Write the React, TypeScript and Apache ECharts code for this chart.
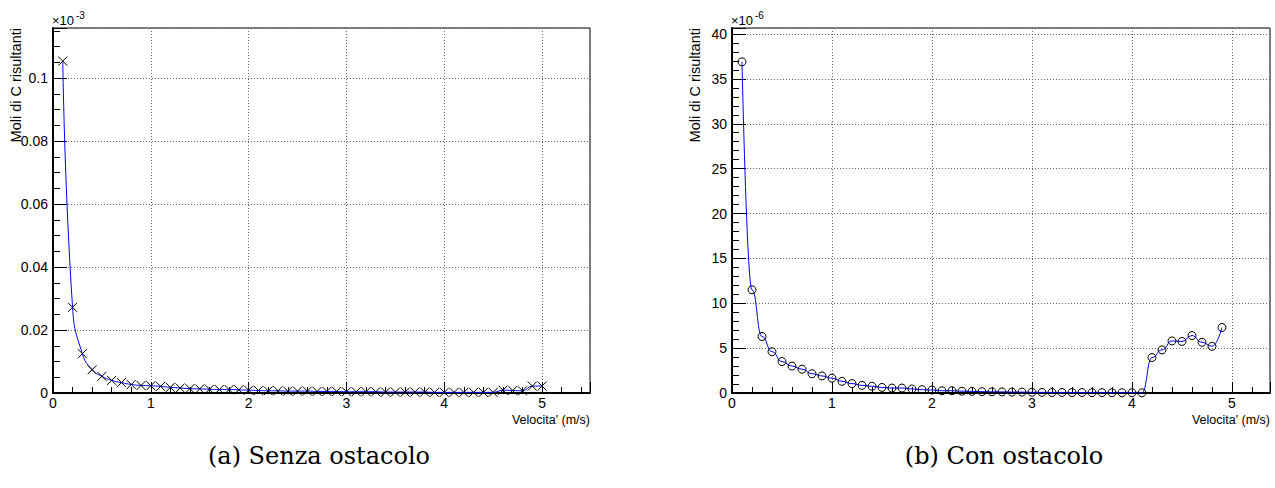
import React, { useEffect, useRef } from "react";
import * as echarts from "echarts";

const velocityA = [0.1,0.2,0.3,0.4,0.5,0.6,0.7,0.8,0.9,1.0,1.1,1.2,1.3,1.4,1.5,1.6,1.7,1.8,1.9,2.0,2.1,2.2,2.3,2.4,2.5,2.6,2.7,2.8,2.9,3.0,3.1,3.2,3.3,3.4,3.5,3.6,3.7,3.8,3.9,4.0,4.1,4.2,4.3,4.4,4.5,4.6,4.7,4.8,4.9,5.0];
const moliA = [0.1054,0.0272,0.0125,0.0074,0.0053,0.0040,0.0033,0.0027,0.0024,0.0023,0.0021,0.0018,0.0016,0.0014,0.0013,0.0012,0.0011,0.0011,0.0010,0.0009,0.0008,0.0007,0.0007,0.0006,0.0006,0.0006,0.0005,0.0005,0.0005,0.0004,0.0004,0.0004,0.0004,0.0003,0.0003,0.0003,0.0003,0.0003,0.0002,0.0002,0.0002,0.0002,0.0002,0.0002,0.0002,0.0009,0.0008,0.0007,0.0022,0.0022];

const velocityB = [0.1,0.2,0.3,0.4,0.5,0.6,0.7,0.8,0.9,1.0,1.1,1.2,1.3,1.4,1.5,1.6,1.7,1.8,1.9,2.0,2.1,2.2,2.3,2.4,2.5,2.6,2.7,2.8,2.9,3.0,3.1,3.2,3.3,3.4,3.5,3.6,3.7,3.8,3.9,4.0,4.1,4.2,4.3,4.4,4.5,4.6,4.7,4.8,4.9];
const moliB = [36.9,11.5,6.3,4.6,3.5,3.0,2.65,2.15,1.9,1.65,1.3,1.05,0.85,0.75,0.62,0.55,0.55,0.45,0.37,0.33,0.25,0.25,0.2,0.18,0.15,0.13,0.12,0.1,0.1,0.08,0.07,0.06,0.06,0.05,0.05,0.04,0.04,0.03,0.03,0.03,0.02,3.95,4.8,5.8,5.75,6.4,5.65,5.2,7.3];

const xTickValues = [0, 1, 2, 3, 4, 5];
const yTicksA = [0, 0.02, 0.04, 0.06, 0.08, 0.1];
const yTicksB = [0, 5, 10, 15, 20, 25, 30, 35, 40];

const FONT = "Liberation Sans";

function xAxisCfg(gridIndex: number, max: number) {
  return {
    type: "value",
    gridIndex,
    min: 0,
    max,
    interval: 1,
    axisLine: { show: true, onZero: false, lineStyle: { color: "#000", width: 2 } },
    axisTick: { show: true, inside: true, length: 11, lineStyle: { color: "#000", width: 1 } },
    minorTick: { show: true, splitNumber: 5, length: 6, lineStyle: { color: "#000", width: 1 } },
    axisLabel: {
      show: true,
      margin: 3,
      color: "#000",
      fontSize: 14,
      lineHeight: 14,
      fontFamily: FONT,
      showMaxLabel: false,
      formatter: (v: number) => (xTickValues.indexOf(v) >= 0 ? String(v) : ""),
    },
    splitLine: { show: true, lineStyle: { color: "#666", width: 1, type: [1, 2] } },
    minorSplitLine: { show: false },
  };
}

function yAxisCfg(gridIndex: number, max: number, interval: number, minorSplit: number, ticks: number[]) {
  return {
    type: "value",
    gridIndex,
    min: 0,
    max,
    interval,
    axisLine: { show: true, onZero: false, lineStyle: { color: "#000", width: 2 } },
    axisTick: { show: true, inside: true, length: 14, lineStyle: { color: "#000", width: 1 } },
    minorTick: { show: true, splitNumber: minorSplit, length: 7, lineStyle: { color: "#000", width: 1 } },
    axisLabel: {
      show: true,
      margin: 5,
      color: "#000",
      fontSize: 14,
      fontFamily: FONT,
      showMaxLabel: false,
      formatter: (v: number) => {
        const hit = ticks.find((t) => Math.abs(t - v) < 1e-9);
        return hit === undefined ? "" : String(hit);
      },
    },
    splitLine: { show: true, lineStyle: { color: "#666", width: 1, type: [1, 2] } },
  };
}

export default function App() {
  const ref = useRef<HTMLDivElement>(null);
  useEffect(() => {
    if (!ref.current) return;
    const chart = echarts.init(ref.current, null, { renderer: "svg" });
    const txt = (t: string, x: number, y: number, extra: any = {}) => ({
      type: "text",
      x,
      y,
      silent: true,
      style: { text: t, fill: "#000", fontFamily: FONT, fontSize: 12, ...extra },
    });
    chart.setOption({
      animation: false,
      backgroundColor: "#fff",
      grid: [
        { left: 53, top: 28, width: 537, height: 365, show: true, borderColor: "#000", borderWidth: 1, backgroundColor: "transparent" },
        { left: 732, top: 28, width: 538, height: 365, show: true, borderColor: "#000", borderWidth: 1, backgroundColor: "transparent" },
      ],
      xAxis: [xAxisCfg(0, 5.49), xAxisCfg(1, 5.38)],
      yAxis: [yAxisCfg(0, 0.1159, 0.02, 4, yTicksA), yAxisCfg(1, 40.67, 5, 5, yTicksB)],
      series: [
        {
          type: "line",
          xAxisIndex: 0,
          yAxisIndex: 0,
          data: velocityA.map((v, i) => [v, moliA[i]]),
          smooth: 0.5,
          lineStyle: { color: "#0000ff", width: 1 },
          symbol: "path://M0,0L10,10M10,0L0,10",
          symbolSize: 9,
          itemStyle: { color: "transparent", borderColor: "#000", borderWidth: 1 },
          emphasis: { disabled: true },
        },
        {
          type: "line",
          xAxisIndex: 1,
          yAxisIndex: 1,
          data: velocityB.map((v, i) => [v, moliB[i]]),
          smooth: 0.5,
          smoothMonotone: "x",
          lineStyle: { color: "#0000ff", width: 1 },
          symbol: "circle",
          symbolSize: 8,
          itemStyle: { color: "transparent", borderColor: "#000", borderWidth: 1 },
          emphasis: { disabled: true },
        },
      ],
      graphic: [
        txt("×10", 52, 20, { fontSize: 13, verticalAlign: "middle" }),
        txt("-3", 76, 15, { fontSize: 10, verticalAlign: "middle" }),
        txt("×10", 731, 20, { fontSize: 13, verticalAlign: "middle" }),
        txt("-6", 755, 15, { fontSize: 10, verticalAlign: "middle" }),
        { ...txt("Moli di C risultanti", 16, 28, { fontSize: 14.5, align: "right", verticalAlign: "middle" }), rotation: Math.PI / 2 },
        { ...txt("Moli di C risultanti", 695, 28, { fontSize: 14.5, align: "right", verticalAlign: "middle" }), rotation: Math.PI / 2 },
        txt("Velocita' (m/s)", 590, 420, { fontSize: 12.5, align: "right", verticalAlign: "middle" }),
        txt("Velocita' (m/s)", 1270, 420, { fontSize: 12.5, align: "right", verticalAlign: "middle" }),
        txt("(a) Senza ostacolo", 319, 456, { fontSize: 24, fontFamily: "DejaVu Serif", align: "center", verticalAlign: "middle" }),
        txt("(b) Con ostacolo", 1004, 456, { fontSize: 24, fontFamily: "DejaVu Serif", align: "center", verticalAlign: "middle" }),
      ],
    });
    return () => chart.dispose();
  }, []);
  return <div ref={ref} style={{ position: "absolute", left: 0, top: 0, width: 1275, height: 488 }} />;
}
